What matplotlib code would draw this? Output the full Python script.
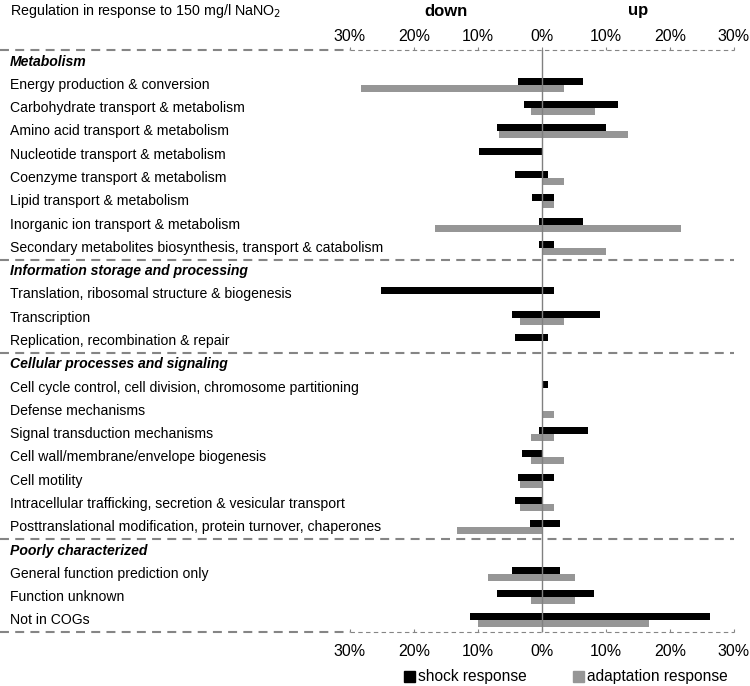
import matplotlib.pyplot as plt
import matplotlib.transforms as mtransforms
from matplotlib.patches import Patch
import numpy as np

plt.rcParams['font.family'] = ['Liberation Sans', 'DejaVu Sans']

sections = ['Metabolism', 'Information storage and processing',
            'Cellular processes and signaling', 'Poorly characterized']
section_cats = [
    ['Energy production & conversion',
     'Carbohydrate transport & metabolism',
     'Amino acid transport & metabolism',
     'Nucleotide transport & metabolism',
     'Coenzyme transport & metabolism',
     'Lipid transport & metabolism',
     'Inorganic ion transport & metabolism',
     'Secondary metabolites biosynthesis, transport & catabolism'],
    ['Translation, ribosomal structure & biogenesis',
     'Transcription',
     'Replication, recombination & repair'],
    ['Cell cycle control, cell division, chromosome partitioning',
     'Defense mechanisms',
     'Signal transduction mechanisms',
     'Cell wall/membrane/envelope biogenesis',
     'Cell motility',
     'Intracellular trafficking, secretion & vesicular transport',
     'Posttranslational modification, protein turnover, chaperones'],
    ['General function prediction only',
     'Function unknown',
     'Not in COGs'],
]

# percent of genes regulated (down values negative)
shock_down = [-3.8, -2.8, -7.0, -9.8, -4.2, -1.5, -0.5, -0.5,
              -25.2, -4.7, -4.2,
              0, 0, -0.5, -3.2, -3.8, -4.2, -1.9,
              -4.7, -7.0, -11.2]
shock_up = [6.4, 11.8, 10.0, 0, 0.9, 1.9, 6.4, 1.9,
            1.9, 9.1, 0.9,
            0.9, 0, 7.2, 0, 1.9, 0, 2.8,
            2.8, 8.2, 26.3]
adapt_down = [-28.3, -1.7, -6.7, 0, 0, 0, -16.7, 0,
              0, -3.4, 0,
              0, 0, -1.7, -1.7, -3.4, -3.4, -13.3,
              -8.4, -1.7, -10.0]
adapt_up = [3.4, 8.3, 13.4, 0, 3.4, 1.8, 21.7, 10.0,
            0, 3.4, 0,
            0, 1.8, 1.8, 3.4, 0, 1.8, 0,
            5.1, 5.1, 16.7]
ticks = [-30, -20, -10, 0, 10, 20, 30]

# row layout
cat_rows, cat_names, head_rows, seps = [], [], [], []
r = 0
for i, (sec, cats) in enumerate(zip(sections, section_cats)):
    if i > 0:
        seps.append(r - 0.5)
    head_rows.append(r)
    r += 1
    for c in cats:
        cat_rows.append(r)
        cat_names.append(c)
        r += 1
cat_rows = np.array(cat_rows)
top_line = -0.5
bot_line = r - 0.5

fig = plt.figure(figsize=(7.5, 6.86), dpi=100)
ax = fig.add_axes([350/750, 54/686, 384/750, 582/686])
ax.set_xlim(-30, 30)
ax.set_ylim(bot_line, top_line)
for s in ax.spines.values():
    s.set_visible(False)
ax.set_yticks([])

black = '#000000'
grey = '#969696'
h = 0.3
ax.barh(cat_rows + 0.15, adapt_up, height=h, color=grey, zorder=2)
ax.barh(cat_rows + 0.15, adapt_down, height=h, color=grey, zorder=2)
ax.barh(cat_rows - 0.15, shock_up, height=h, color=black, zorder=3)
ax.barh(cat_rows - 0.15, shock_down, height=h, color=black, zorder=3)
ax.plot([0, 0], [top_line, bot_line], color='#808080', lw=1, zorder=4)

trans = mtransforms.blended_transform_factory(fig.transFigure, ax.transData)
lc = '#858585'
for y in seps:
    ax.plot([0, 734/750], [y, y], transform=trans, color=lc, lw=1.5,
            ls=(0, (4.3, 3)), clip_on=False)
for y in [top_line, bot_line]:
    ax.plot([0, 350/750], [y, y], transform=trans, color=lc, lw=1.5,
            ls=(0, (4.3, 3)), clip_on=False)
    ax.plot([-30, 30], [y, y], color=lc, lw=0.8, ls=(0, (4, 3)), clip_on=False)
    ax.vlines(ticks, y - 0.14, y, color=lc, lw=0.8, clip_on=False)

# tick labels
ax.set_xticks(ticks)
ax.set_xticklabels([f'{abs(t)}%' for t in ticks])
ax.tick_params(axis='x', length=0, pad=9, labelsize=11.5, colors='#000000')
top = ax.secondary_xaxis('top')
top.set_xticks(ticks)
top.set_xticklabels([f'{abs(t)}%' for t in ticks])
top.tick_params(length=0, pad=4, labelsize=11.5)
top.spines['top'].set_visible(False)

# category and header labels
for y, name in zip(cat_rows, cat_names):
    ax.text(10/750, y, name, transform=trans, ha='left', va='center', fontsize=10.1)
for y, name in zip(head_rows, sections):
    ax.text(10/750, y, name, transform=trans, ha='left', va='center',
            fontsize=10.1, fontweight='bold', fontstyle='italic')

fig.text(10/750, 1 - 11/686, 'Regulation in response to 150 mg/l NaNO$_2$',
         ha='left', va='center', fontsize=10.3)
ftrans = mtransforms.blended_transform_factory(ax.transData, fig.transFigure)
ax.text(-15, 1 - 11/686, 'down', transform=ftrans, ha='center', va='center',
        fontsize=12, fontweight='bold')
ax.text(15, 1 - 11/686, 'up', transform=ftrans, ha='center', va='center',
        fontsize=12, fontweight='bold')

handles = [Patch(color=black), Patch(color=grey)]
fig.legend(handles, ['shock response', 'adaptation response'], loc='center',
           bbox_to_anchor=(566/750, 9/686), ncol=2, frameon=False, fontsize=11.2,
           handlelength=0.7, handleheight=0.7, handletextpad=0.2, columnspacing=3.0)

plt.savefig('out.png', dpi=100)
